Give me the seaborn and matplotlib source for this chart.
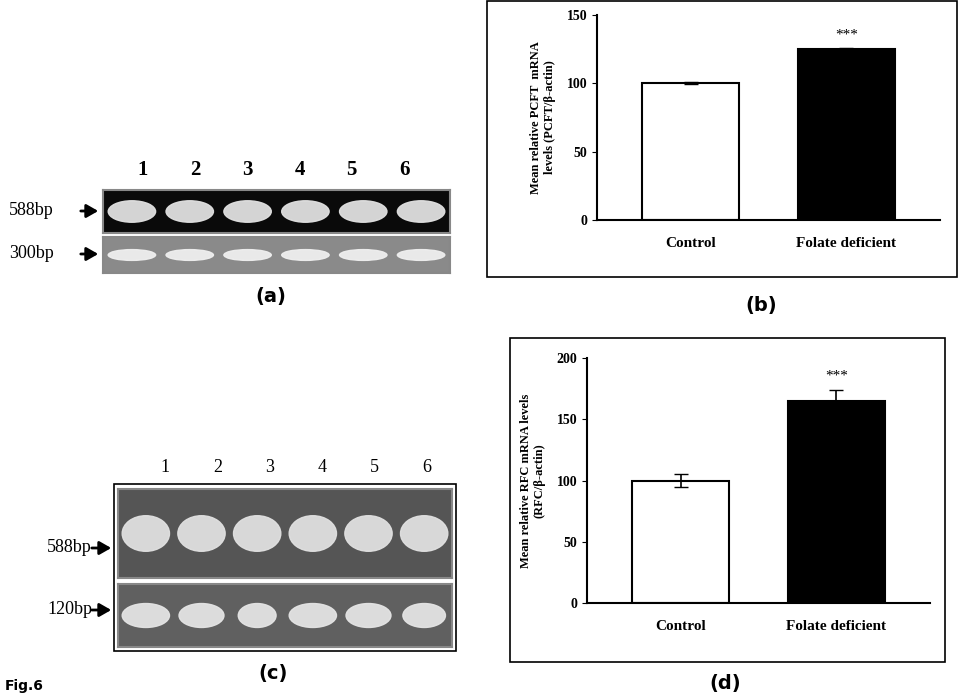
import matplotlib
matplotlib.use("Agg")
import matplotlib.pyplot as plt
from matplotlib.patches import Rectangle, Ellipse, FancyArrowPatch
import seaborn as sns
import pandas as pd

groups = ["Control", "Folate deficient"]
pcft_mean = [100, 125]
pcft_err = [0.8, 1.0]
rfc_mean = [100, 165]
rfc_err = [5, 9]
lanes = ["1", "2", "3", "4", "5", "6"]
gel_a_top_band = [1.0, 1.0, 1.0, 1.0, 1.0, 1.0]
gel_a_bot_band = [1.0, 1.0, 1.0, 1.0, 1.0, 1.0]
gel_c_top_band = [1.0, 1.0, 1.0, 1.0, 1.0, 1.0]
gel_c_bot_band = [1.0, 0.95, 0.8, 1.0, 0.95, 0.9]

W, H = 961, 698
fig = plt.figure(figsize=(W/100, H/100), dpi=100)
serif = "Liberation Serif"

def ax_px(x0, y0, x1, y1, **kw):
    return fig.add_axes([x0/W, 1-y1/H, (x1-x0)/W, (y1-y0)/H], **kw)

def frame(x0, y0, x1, y1):
    fig.patches.append(Rectangle((x0/W, 1-y1/H), (x1-x0)/W, (y1-y0)/H,
                                 transform=fig.transFigure, fill=False, lw=1.2, ec="black"))

def bar_panel(box, axbox, means, errs, ylim, ticks, ylabel):
    frame(*box)
    ax = ax_px(*axbox)
    df = pd.DataFrame({"g": groups, "v": means})
    sns.barplot(data=df, x="g", y="v", hue="g", palette=["white", "black"],
                edgecolor="black", linewidth=1.5, width=0.62, legend=False, ax=ax, errorbar=None)
    ax.errorbar(range(2), means, yerr=errs, fmt="none", ecolor="black", capsize=5, lw=1.2)
    ax.text(1, means[1] + errs[1] + ylim[1]*0.03, "***", ha="center", va="bottom", fontsize=11, family=serif)
    ax.set_ylim(*ylim)
    ax.set_yticks(ticks)
    ax.set_yticklabels([str(t) for t in ticks], fontsize=10, fontweight="bold", family=serif)
    ax.set_xlim(-0.6, 1.6)
    ax.set_xlabel("")
    ax.set_ylabel(ylabel, fontsize=9, fontweight="bold", family=serif, labelpad=8)
    ax.tick_params(axis="x", length=0, pad=12)
    for t in ax.get_xticklabels():
        t.set_fontsize(11); t.set_fontweight("bold"); t.set_family(serif)
    sns.despine(ax=ax)
    ax.spines["left"].set_linewidth(1.5); ax.spines["bottom"].set_linewidth(1.5)
    return ax

bar_panel((487, 1, 957, 277), (597, 15, 940, 220), pcft_mean, pcft_err, (0, 150), [0, 50, 100, 150],
          "Mean relative PCFT  mRNA\nlevels (PCFT/β-actin)")
bar_panel((510, 338, 945, 662), (587, 358, 930, 603), rfc_mean, rfc_err, (0, 200), [0, 50, 100, 150, 200],
          "Mean relative RFC mRNA levels\n(RFC/β-actin)")

def gel(box, bg, band_color, vals, bw, bh):
    ax = ax_px(*box)
    ax.set_xlim(0.5, 6.5); ax.set_ylim(0, 1)
    ax.set_facecolor(bg)
    for i, v in enumerate(vals):
        ax.add_patch(Ellipse((i+1, 0.5), bw*v, bh, color=band_color, alpha=0.95))
    ax.set_xticks([]); ax.set_yticks([])
    for s in ax.spines.values():
        s.set_edgecolor("#888888"); s.set_linewidth(1.5)
    return ax

gel((103, 190, 450, 233), "#0a0a0a", "#e0e0e0", gel_a_top_band, 0.82, 0.5)
gel((103, 237, 450, 273), "#8a8a8a", "#efefef", gel_a_bot_band, 0.82, 0.3)
frame(114, 484, 456, 651)
gel((118, 489, 452, 578), "#555555", "#e0e0e0", gel_c_top_band, 0.85, 0.4)
gel((118, 584, 452, 647), "#606060", "#e4e4e4", gel_c_bot_band, 0.85, 0.38)

def txt(x, y, s, **kw):
    fig.text(x/W, 1-y/H, s, **kw)

for i, l in enumerate(lanes):
    txt(143 + i*52.2, 170, l, ha="center", va="center", fontsize=15, fontweight="bold", family=serif)
    txt(165 + i*52.4, 468, l, ha="center", va="center", fontsize=13, family=serif)

def label_arrow(x, y, s, x0, x1):
    txt(x, y, s, ha="left", va="center", fontsize=13, family=serif)
    fig.patches.append(FancyArrowPatch((x0/W, 1-y/H), (x1/W, 1-y/H),
                       transform=fig.transFigure, arrowstyle="-|>,head_width=4,head_length=7",
                       lw=2, color="black", mutation_scale=1))

label_arrow(9, 211, "588bp", 78, 101)
label_arrow(9, 254, "300bp", 78, 101)
label_arrow(47, 548, "588bp", 89, 114)
label_arrow(47, 610, "120bp", 89, 114)

for x, y, s in [(271, 297, "(a)"), (761, 305, "(b)"), (273, 673, "(c)"), (725, 684, "(d)")]:
    txt(x, y, s, ha="center", va="center", fontsize=14, fontweight="bold")
txt(5, 686, "Fig.6", ha="left", va="center", fontsize=10, fontweight="bold")

fig.savefig("out.png", dpi=100, facecolor="white")
